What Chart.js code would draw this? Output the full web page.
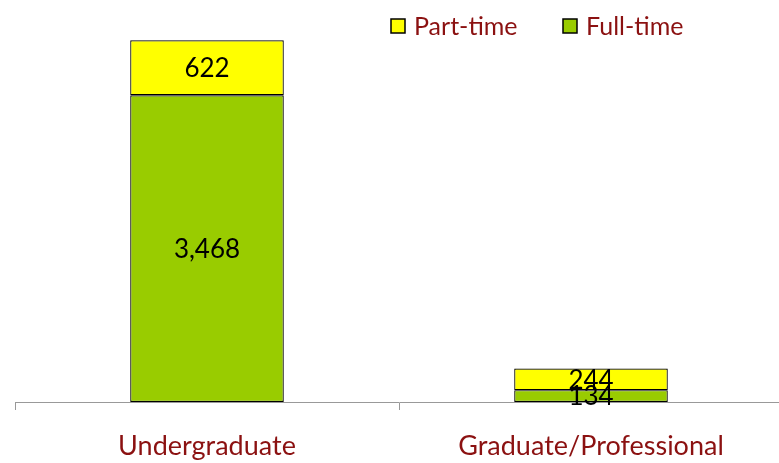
<!DOCTYPE html>
<html>
<head>
<meta charset="utf-8">
<script src="https://cdn.jsdelivr.net/npm/chart.js@4/dist/chart.umd.min.js"></script>
<style>
html,body{margin:0;padding:0;background:#fff;overflow:hidden;}
#wrap{width:779px;height:463px;position:relative;overflow:hidden;}
#c{position:absolute;left:0;top:0;}
</style>
</head>
<body>
<div id="wrap"><canvas id="c" width="783" height="463"></canvas></div>
<script>
const categories = ["Undergraduate", "Graduate/Professional"];
const fullTime = [3468, 134];
const partTime = [622, 244];
const seriesNames = ["Full-time", "Part-time"];

const textRed = "#8B1111";
const fontFamily = "Lato, 'Open Sans', sans-serif";

const valueLabels = {
  id: 'valueLabels',
  afterDatasetsDraw(chart) {
    const ctx = chart.ctx;
    ctx.save();
    ctx.fillStyle = '#000';
    ctx.font = '26px ' + fontFamily;
    ctx.textAlign = 'center';
    ctx.textBaseline = 'middle';
    chart.data.datasets.forEach((ds, i) => {
      const meta = chart.getDatasetMeta(i);
      meta.data.forEach((el, j) => {
        const p = el.getProps(['x', 'y', 'base'], true);
        const v = ds.data[j];
        ctx.fillText(v.toLocaleString('en-US'), p.x, (p.y + p.base) / 2 + 1);
      });
    });
    ctx.restore();
  }
};

// legend drawn at top right, in reverse dataset order (Part-time, Full-time)
const topLegend = {
  id: 'topLegend',
  afterDraw(chart) {
    const ctx = chart.ctx;
    const starts = [391, 563];
    const ds = chart.data.datasets.slice().reverse();
    ctx.save();
    ctx.font = '25px ' + fontFamily;
    ctx.textBaseline = 'middle';
    ctx.textAlign = 'left';
    ds.forEach((d, k) => {
      const x = starts[k];
      ctx.fillStyle = d.backgroundColor;
      ctx.fillRect(x, 19, 14, 14);
      ctx.strokeStyle = '#000';
      ctx.lineWidth = 1.5;
      ctx.strokeRect(x, 19, 14, 14);
      ctx.fillStyle = textRed;
      ctx.fillText(d.label, x + 23, 27);
    });
    ctx.restore();
  }
};

new Chart(document.getElementById('c'), {
  type: 'bar',
  data: {
    labels: categories,
    datasets: [
      { label: seriesNames[0], data: fullTime, backgroundColor: '#99CC00', borderColor: '#000', borderWidth: 1.2, borderSkipped: false },
      { label: seriesNames[1], data: partTime, backgroundColor: '#FFFF00', borderColor: '#000', borderWidth: 1.2, borderSkipped: false }
    ]
  },
  options: {
    responsive: false,
    animation: false,
    devicePixelRatio: 1,
    layout: { padding: { left: 15, right: 0, top: 4, bottom: 0 } },
    datasets: { bar: { barPercentage: 0.4, categoryPercentage: 1 } },
    plugins: {
      legend: { display: false },
      tooltip: { enabled: false }
    },
    scales: {
      x: {
        stacked: true,
        offset: true,
        afterFit(scale) { scale.height = 61; },
        grid: { display: true, drawOnChartArea: false, drawTicks: true, tickLength: 8, color: '#999', offset: true },
        border: { display: true, color: '#999', width: 1 },
        ticks: { color: textRed, font: { family: fontFamily, size: 27 }, padding: 20, maxRotation: 0 }
      },
      y: {
        stacked: true,
        display: false,
        min: 0,
        max: 4500
      }
    }
  },
  plugins: [valueLabels, topLegend]
});
</script>
</body>
</html>
